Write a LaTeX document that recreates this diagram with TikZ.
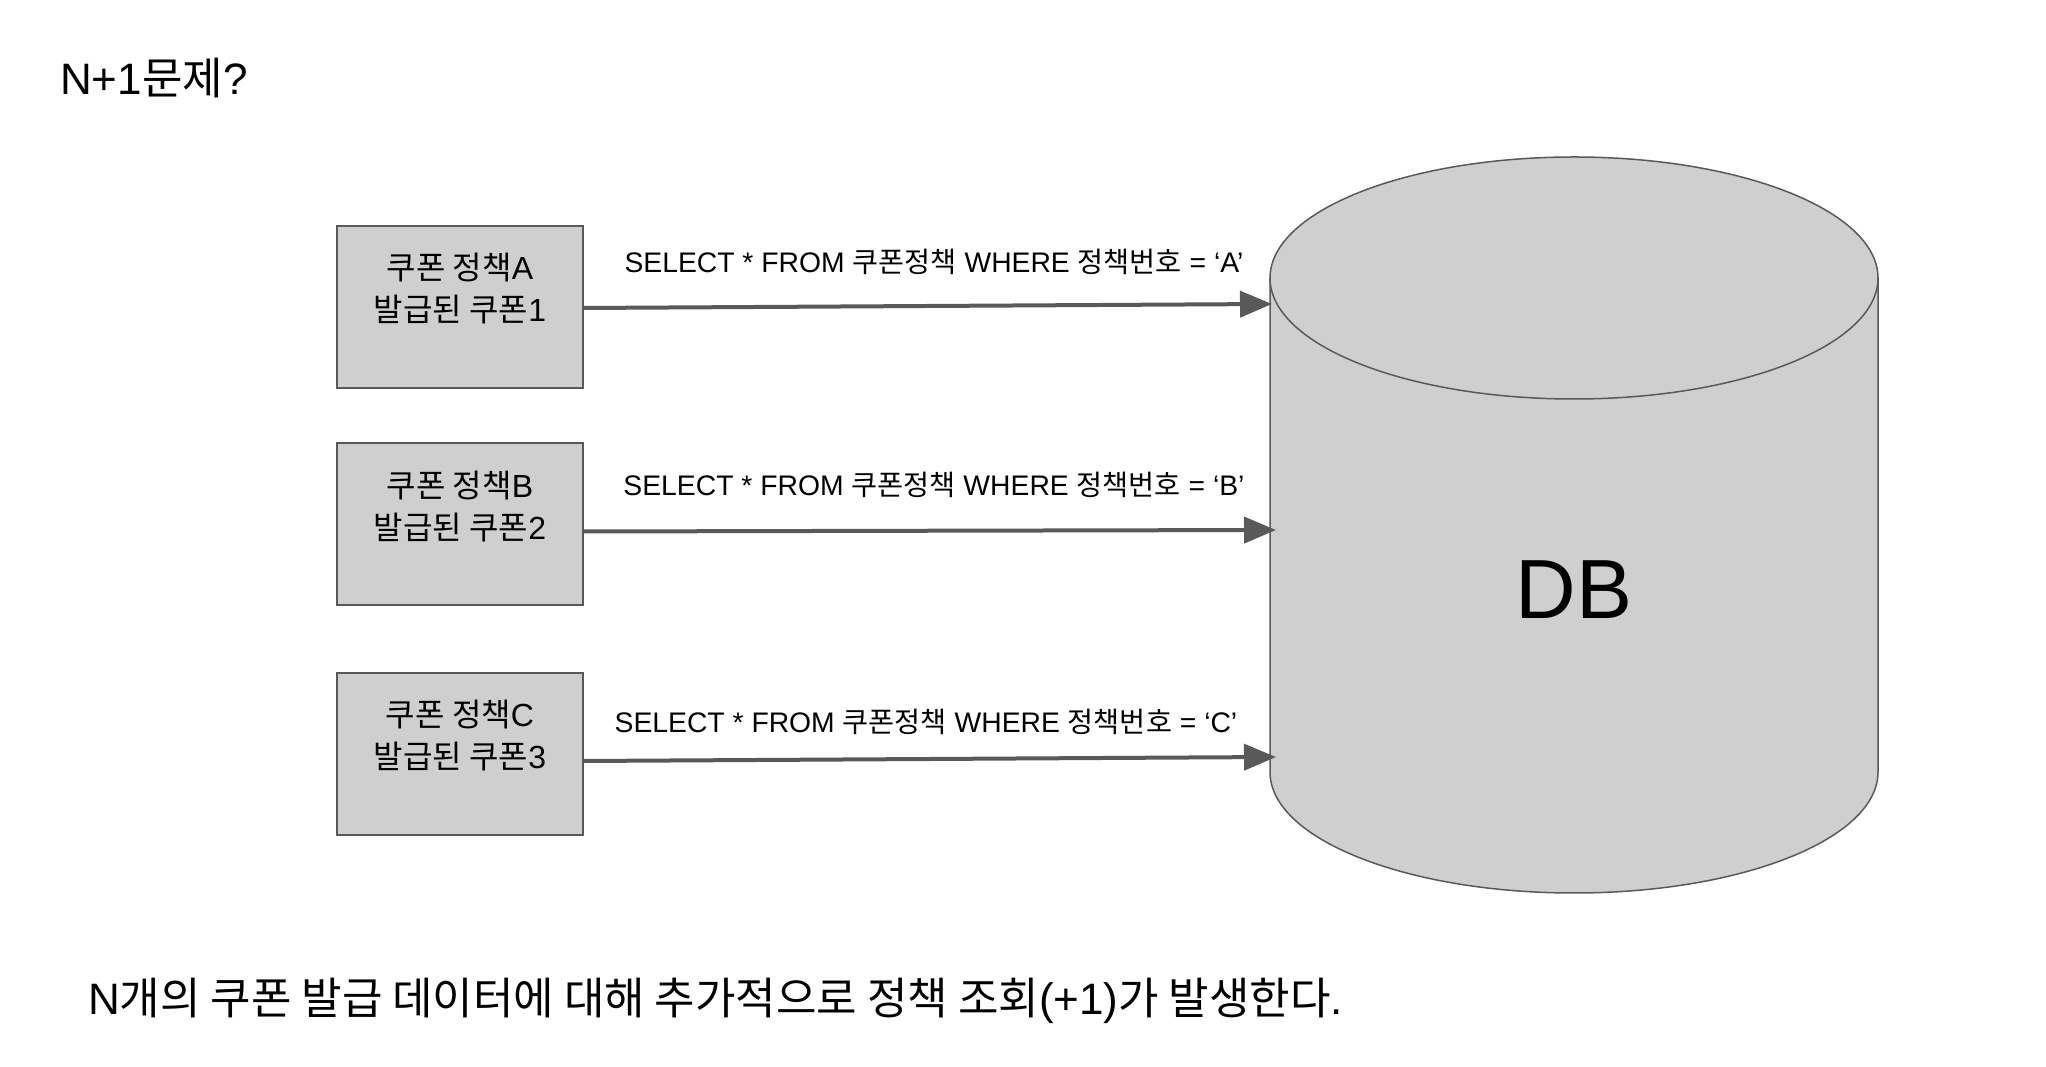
\documentclass[tikz,border=0pt]{standalone}
\usepackage{fontspec}
\setmainfont{Liberation Sans}
\newfontfamily\kr{Noto Sans CJK KR}
\newcommand{\K}[1]{{\kr #1}}
\usetikzlibrary{arrows.meta}
\definecolor{boxfill}{HTML}{CFCFCF}
\definecolor{edge}{HTML}{595959}
\tikzset{
  policybox/.style={draw=edge, line width=2pt, fill=boxfill, minimum width=246pt, minimum height=162pt, inner sep=0pt},
  boxtext/.style={align=center, font=\fontsize{32}{42}\selectfont, inner sep=0pt},
  query/.style={font=\fontsize{28.3}{32}\selectfont, inner sep=0pt},
  conn/.style={draw=edge, line width=4pt, -{Triangle[length=32pt,width=26pt]}},
  bigtext/.style={font=\fontsize{44}{50}\selectfont, inner sep=0pt, anchor=west}
}
\begin{document}
\begin{tikzpicture}[x=1pt,y=1pt]
\useasboundingbox[fill=white] (0,0) rectangle (2046,1066);

% title
\node[bigtext] (title) at (60,988) {N+1\K{문제}?};

% cylinder DB
\fill[boxfill] (1270,788) -- (1270,294) arc[start angle=180,end angle=360,x radius=304pt,y radius=121pt] -- (1878,788) arc[start angle=0,end angle=180,x radius=304pt,y radius=121pt] -- cycle;
\draw[edge, line width=1.5pt] (1270,788) -- (1270,294) arc[start angle=180,end angle=360,x radius=304pt,y radius=121pt] -- (1878,788);
\draw[edge, line width=1.5pt] (1574,788) ellipse[x radius=304pt,y radius=121pt];
\node[font=\fontsize{84}{90}\selectfont, inner sep=0pt] (db) at (1574,476) {DB};

% boxes
\node[policybox] (boxA) at (460,759) {};
\node[policybox] (boxB) at (460,541.5) {};
\node[policybox] (boxC) at (460,312) {};
\node[boxtext] (tA) at (460,777) {\K{쿠폰 정책}A\\\K{발급된 쿠폰}1};
\node[boxtext] (tB) at (460,559) {\K{쿠폰 정책}B\\\K{발급된 쿠폰}2};
\node[boxtext] (tC) at (460,330) {\K{쿠폰 정책}C\\\K{발급된 쿠폰}3};

% arrow ends
\coordinate (eA) at (1272,762);
\coordinate (eB) at (1276,536);
\coordinate (eC) at (1276,309);

\draw[conn] ([yshift=-1pt]boxA.east) -- (eA);
\draw[conn] ([yshift=-7pt]boxB.east) -- (eB);
\draw[conn] ([yshift=-7pt]boxC.east) -- (eC);

% query labels
\node[query] (qA) at (934,804) {SELECT * FROM \K{쿠폰정책} WHERE \K{정책번호} = ‘A’};
\node[query] (qB) at (934,581) {SELECT * FROM \K{쿠폰정책} WHERE \K{정책번호} = ‘B’};
\node[query] (qC) at (926,344) {SELECT * FROM \K{쿠폰정책} WHERE \K{정책번호} = ‘C’};

% bottom sentence
\node[bigtext] (note) at (88,65) {N\K{개의 쿠폰 발급 데이터에 대해 추가적으로 정책 조회}(+1)\K{가 발생한다}.};
\end{tikzpicture}
\end{document}
